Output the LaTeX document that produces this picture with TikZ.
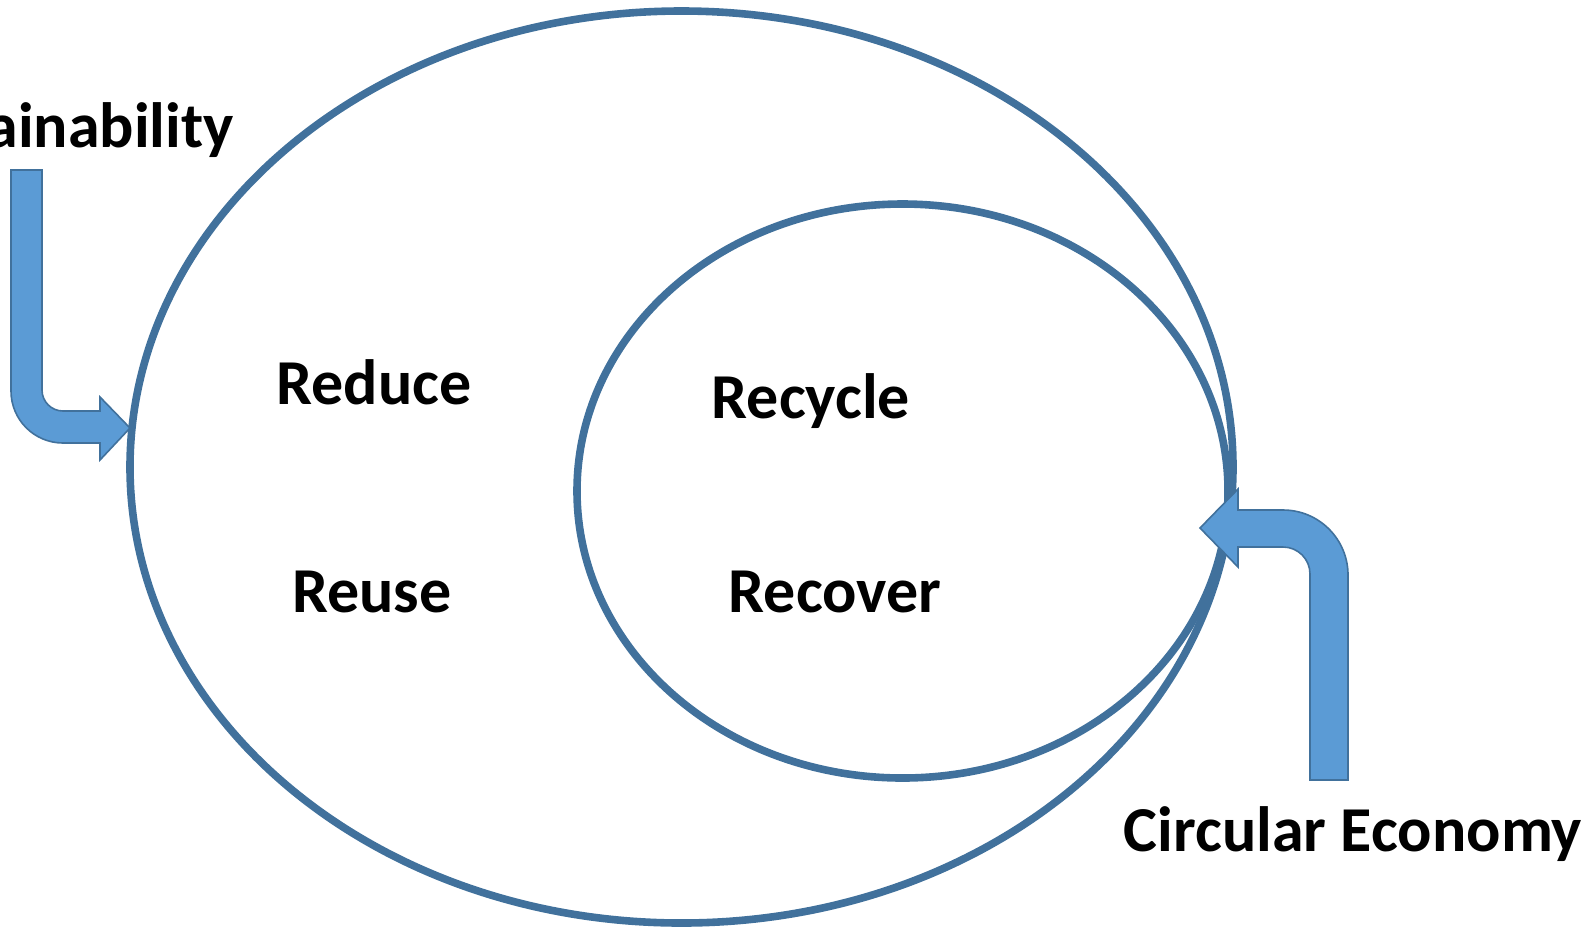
\documentclass[tikz,border=0pt]{standalone}
\usepackage{fontspec}
\setmainfont{Carlito}
\usepackage{tikz}
\usetikzlibrary{positioning}
\definecolor{ringblue}{HTML}{41719C}
\definecolor{arrowblue}{HTML}{5B9BD5}

\begin{document}
\begin{tikzpicture}[x=0.5pt,y=0.5pt,yscale=-1,
    ring/.style={draw=ringblue,line width=3.8pt},
    bentarrow/.style={fill=arrowblue,draw=ringblue,line width=0.8pt,line join=miter},
    word/.style={font=\fontsize{32}{38}\selectfont\bfseries,inner sep=0pt,anchor=base}]
    \useasboundingbox (0,0) rectangle (1593,928);
    % the two rings
    \draw[ring] (681.5,467) ellipse [x radius=551.5, y radius=456];
    \draw[ring] (902.5,491) ellipse [x radius=325.5, y radius=287];
    % bent arrows
    \draw[bentarrow] (11,170) -- (42,170) -- (42,390)
        arc [start angle=180, end angle=90, radius=21] -- (100,411) -- (100,397)
        -- (130,428) -- (100,460) -- (100,443) -- (63,443)
        arc [start angle=90, end angle=180, radius=52] -- cycle;
    \draw[bentarrow] (1310,780) -- (1348,780) -- (1348,575)
        arc [start angle=0, end angle=-90, radius=65] -- (1238,510) -- (1238,489)
        -- (1200,528) -- (1238,567) -- (1238,547) -- (1283,547)
        arc [start angle=-90, end angle=0, radius=27] -- cycle;
    % labels
    \node[word] (reduce) at (374,404) {Reduce};
    \node[word] (reuse) at (372,612) {Reuse};
    \node[word] (recycle) at (811,418) {Recycle};
    \node[word] (recover) at (835,612) {Recover};
    \node[word,anchor=base east] (sust) at (234,147) {Sustainability};
    \node[word] (circ) at (1353,851) {Circular Economy};
\end{tikzpicture}
\end{document}
